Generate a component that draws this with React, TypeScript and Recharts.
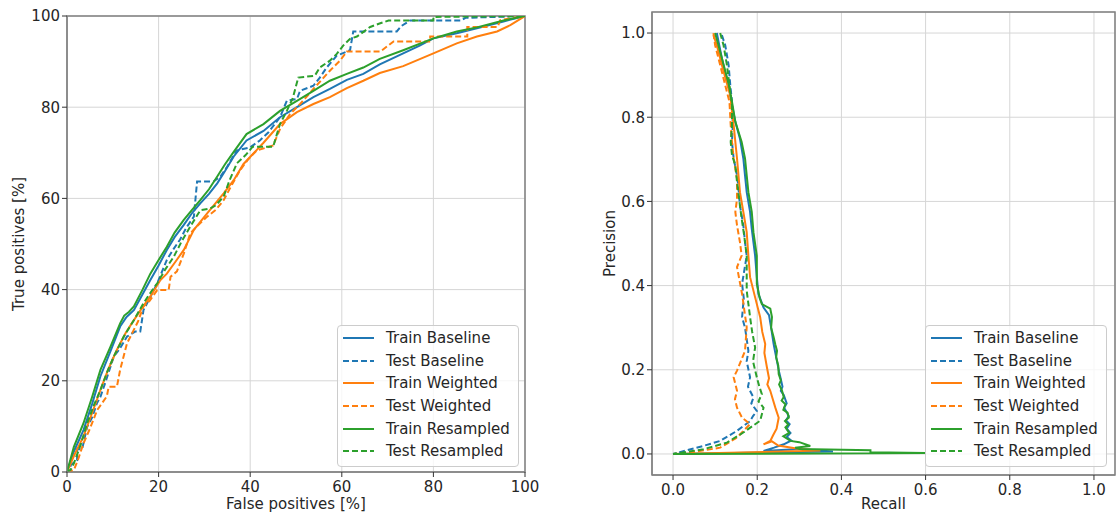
import React from 'react';
import { LineChart, Line, XAxis, YAxis, CartesianGrid, ReferenceArea } from 'recharts';

const seriesNames = ['Train Baseline', 'Test Baseline', 'Train Weighted', 'Test Weighted', 'Train Resampled', 'Test Resampled'];
const seriesColors = ['#1f77b4', '#1f77b4', '#ff7f0e', '#ff7f0e', '#2ca02c', '#2ca02c'];
const seriesDashed = [false, true, false, true, false, true];

const rocTicks = [0, 20, 40, 60, 80, 100];
const prTicks = [0, 0.2, 0.4, 0.6, 0.8, 1.0];

// ROC: [false positives %, true positives %]
const rocTrainBaseline = [
  [0, 0], [1.5, 4.5], [3.6, 9.2], [5.5, 15], [7.3, 21], [9.5, 26.5], [11.6, 31.9], [13, 34], [14.6, 35.5],
  [16.5, 39], [18.2, 42.1], [20, 45.3], [21.8, 48.7], [23.5, 51.5], [25.5, 54.2], [27.3, 56.8], [29.1, 58.9],
  [31, 61], [32.8, 63.3], [34.5, 66], [36.4, 69.2], [39.2, 72.7], [42.9, 74.8], [46.5, 77.8], [50.2, 80],
  [53.8, 82.2], [57.4, 84], [61.1, 86], [64.7, 87.3], [68.3, 89.4], [73.4, 91.8], [77, 93.5], [80, 95.1],
  [85.1, 96.2], [89.5, 97.3], [95.3, 98.8], [100, 100],
];
const rocTestBaseline = [
  [0, 0], [0.8, 0], [0.8, 1.5], [2.2, 2.6], [2.2, 5], [3.3, 5], [4.4, 9.9], [5.5, 12], [6.5, 15], [7.3, 16.5],
  [8.5, 20], [10.2, 25.3], [11.5, 27], [13.1, 29.7], [14.9, 30.8], [16, 30.8], [16.7, 35.5], [18, 38],
  [19.7, 41.4], [21.8, 46.5], [23, 48.5], [24.7, 51], [26, 53.5], [27.7, 56], [28.4, 63.7], [32, 63.7],
  [33.5, 64.8], [35, 67], [37, 70.5], [40, 71.2], [42.1, 72.7], [44, 74.5], [46.5, 77.8], [48, 81.4],
  [50.2, 81.8], [50.9, 83.6], [53.8, 84.7], [55.2, 86.5], [56.7, 88.7], [58.9, 91.3], [61.8, 92.5],
  [62.5, 96.6], [72, 96.6], [73, 97.8], [74.9, 99], [86, 99], [87, 99.6], [100, 100],
];
const rocTrainWeighted = [
  [0, 0], [1.5, 3.5], [3.6, 7.8], [5.5, 13], [7.3, 18], [9, 22.5], [10.9, 26.8], [12.8, 30.5], [14.6, 33.3],
  [16.4, 36], [18.2, 38.5], [20.4, 42.1], [21.8, 43.5], [23.6, 46], [25.5, 48.7], [27.7, 53.1], [30.6, 56.7],
  [34.2, 61.1], [36.4, 64], [38.5, 67.5], [42.9, 72.2], [46.5, 76.3], [50.2, 78.9], [53.8, 80.7],
  [57.4, 82.2], [61.1, 84.2], [64.7, 85.8], [68.3, 87.5], [73.4, 89], [80, 91.8], [85.1, 94], [89.5, 95.5],
  [93.9, 96.6], [96.8, 98], [100, 100],
];
const rocTestWeighted = [
  [0, 0], [1.5, 0.4], [2.5, 3], [3.6, 6.3], [5, 9.5], [6.6, 13.6], [8.7, 16.6], [9.1, 18.7], [10.9, 18.7],
  [11.6, 22.4], [13.1, 28.2], [14.5, 31], [15.5, 33], [16.7, 36.3], [18, 37.5], [19.7, 39.9], [22.2, 39.9],
  [22.6, 42.8], [24, 44], [25.5, 47.9], [26.9, 52.3], [28.5, 54], [30.6, 56], [32.5, 57.5], [34.2, 59.6],
  [36, 63], [37.8, 66.2], [39.5, 68.5], [41.4, 70.5], [45, 71.6], [46.5, 75.2], [48.7, 78.5], [50.9, 80.7],
  [53.8, 84], [57.4, 88], [59.6, 90.2], [61.1, 92.2], [68.4, 92.2], [71.3, 94.4], [79.3, 94.4], [79.3, 95.5],
  [87.4, 95.5], [87.4, 97.6], [94, 97.6], [94.6, 99.1], [100, 100],
];
const rocTrainResampled = [
  [0, 0], [1.5, 5.5], [3.6, 10.7], [5.5, 16.5], [7.3, 22.4], [9.5, 27.5], [11.6, 32.6], [12.5, 34.3],
  [13.5, 35.1], [14.6, 36.3], [16.5, 40], [18.2, 43.5], [20, 46.5], [21.8, 49.4], [23.5, 52.5], [25.5, 55.3],
  [27.3, 57.5], [29.1, 59.6], [31, 62], [32.8, 64.8], [34.5, 67.5], [36.4, 70.2], [39.2, 74.1], [42.9, 76.3],
  [46.5, 79.2], [50.2, 81.4], [53.8, 83.6], [57.4, 85.8], [61.1, 87.3], [64.7, 88.7], [68.3, 90.6],
  [73.4, 92.5], [80, 95.1], [85.1, 96.6], [89.5, 97.5], [95.3, 99], [100, 100],
];
const rocTestResampled = [
  [0, 0], [0.8, 0.5], [1.5, 1.9], [3, 6], [4.4, 10.7], [5.8, 14.5], [7.3, 18], [8.8, 22], [10.2, 25.3],
  [12.4, 29.7], [14.6, 33.3], [16.7, 37], [18, 39], [19.7, 41.4], [21.5, 44.5], [23.3, 47.2], [25, 50.5],
  [26.9, 53.8], [29.1, 57.4], [31.3, 57.8], [32.5, 58.5], [34.2, 60.4], [35.5, 64], [37.1, 67.7], [39, 69.5],
  [40.5, 71.3], [45, 71.3], [46.5, 76.3], [48, 79.2], [49.3, 82], [50.5, 86.5], [54.1, 86.9], [55.2, 88.7],
  [57.4, 90.2], [58.9, 91.7], [60.3, 93.5], [61.8, 95], [63.3, 95.5], [66.2, 97.6], [68.4, 98.4], [70.2, 99],
  [80, 99], [80, 99.8], [100, 100],
];

// PR: [recall, precision]
const prTrainBaseline = [
  [0.104, 1.0], [0.11, 0.97], [0.116, 0.94], [0.124, 0.905], [0.132, 0.876], [0.14, 0.829], [0.148, 0.789],
  [0.159, 0.749], [0.167, 0.702], [0.171, 0.662], [0.175, 0.622], [0.183, 0.575], [0.187, 0.535], [0.195, 0.471],
  [0.199, 0.42], [0.203, 0.38], [0.215, 0.348], [0.228, 0.33], [0.233, 0.3], [0.239, 0.261], [0.243, 0.24],
  [0.247, 0.22], [0.252, 0.195], [0.255, 0.182], [0.26, 0.16], [0.256, 0.15], [0.263, 0.14], [0.27, 0.12],
  [0.264, 0.11], [0.275, 0.09], [0.268, 0.08], [0.277, 0.071], [0.27, 0.06], [0.279, 0.05], [0.27, 0.04],
  [0.281, 0.032], [0.263, 0.023], [0.24, 0.015], [0.215, 0.007], [0.3, 0.012], [0.38, 0.006], [0, 0],
];
const prTestBaseline = [
  [0.116, 0.995], [0.124, 0.971], [0.132, 0.924], [0.136, 0.876], [0.14, 0.837], [0.142, 0.781], [0.14, 0.741],
  [0.144, 0.702], [0.152, 0.662], [0.155, 0.638], [0.159, 0.59], [0.167, 0.543], [0.171, 0.503], [0.175, 0.471],
  [0.164, 0.404], [0.168, 0.37], [0.164, 0.325], [0.171, 0.3], [0.179, 0.245], [0.175, 0.22], [0.183, 0.182],
  [0.178, 0.16], [0.191, 0.134], [0.186, 0.12], [0.199, 0.102], [0.19, 0.09], [0.183, 0.078], [0.152, 0.055],
  [0.112, 0.031], [0.072, 0.019], [0, 0],
];
const prTrainWeighted = [
  [0.096, 0.995], [0.104, 0.971], [0.116, 0.924], [0.128, 0.88], [0.136, 0.852], [0.14, 0.813], [0.144, 0.781],
  [0.152, 0.702], [0.159, 0.622], [0.167, 0.575], [0.175, 0.527], [0.179, 0.471], [0.183, 0.42], [0.195, 0.372],
  [0.207, 0.325], [0.212, 0.29], [0.219, 0.261], [0.217, 0.24], [0.223, 0.206], [0.228, 0.18], [0.224, 0.165],
  [0.231, 0.15], [0.237, 0.13], [0.243, 0.11], [0.251, 0.086], [0.246, 0.06], [0.238, 0.045], [0.231, 0.031],
  [0.215, 0.023], [0.235, 0.03], [0.25, 0.02], [0.3, 0.012], [0.35, 0.008], [0, 0],
];
const prTestWeighted = [
  [0.096, 1.0], [0.1, 0.971], [0.112, 0.924], [0.124, 0.876], [0.134, 0.837], [0.137, 0.781], [0.14, 0.741],
  [0.144, 0.702], [0.152, 0.654], [0.152, 0.606], [0.148, 0.575], [0.152, 0.543], [0.159, 0.503], [0.163, 0.471],
  [0.152, 0.444], [0.164, 0.38], [0.175, 0.301], [0.171, 0.245], [0.152, 0.198], [0.144, 0.182], [0.152, 0.15],
  [0.147, 0.13], [0.152, 0.11], [0.164, 0.086], [0.183, 0.071], [0.152, 0.039], [0.112, 0.015], [0.04, 0.003],
  [0, 0],
];
const prTrainResampled = [
  [0.1, 1.0], [0.116, 0.94], [0.132, 0.88], [0.14, 0.837], [0.148, 0.789], [0.163, 0.741], [0.171, 0.702],
  [0.175, 0.662], [0.179, 0.622], [0.187, 0.575], [0.191, 0.527], [0.199, 0.471], [0.199, 0.404], [0.206, 0.37],
  [0.211, 0.356], [0.222, 0.35], [0.231, 0.345], [0.235, 0.325], [0.233, 0.3], [0.239, 0.277], [0.243, 0.26],
  [0.247, 0.245], [0.245, 0.23], [0.25, 0.21], [0.251, 0.19], [0.256, 0.175], [0.252, 0.165], [0.259, 0.15],
  [0.263, 0.135], [0.258, 0.127], [0.267, 0.118], [0.262, 0.105], [0.272, 0.098], [0.275, 0.086], [0.266, 0.078],
  [0.274, 0.07], [0.267, 0.063], [0.276, 0.05], [0.262, 0.042], [0.279, 0.031], [0.3, 0.028], [0.326, 0.019],
  [0.29, 0.015], [0.3, 0.012], [0.469, 0.009], [0.469, 0.004], [0.6, 0.002], [0, 0],
];
const prTestResampled = [
  [0.112, 1.0], [0.12, 0.971], [0.128, 0.924], [0.134, 0.876], [0.14, 0.829], [0.14, 0.781], [0.137, 0.741],
  [0.14, 0.71], [0.148, 0.686], [0.152, 0.646], [0.158, 0.598], [0.163, 0.559], [0.169, 0.519], [0.175, 0.471],
  [0.175, 0.388], [0.183, 0.325], [0.188, 0.29], [0.195, 0.253], [0.19, 0.22], [0.199, 0.182], [0.205, 0.16],
  [0.211, 0.142], [0.203, 0.125], [0.215, 0.11], [0.207, 0.079], [0.167, 0.051], [0.128, 0.027], [0.072, 0.011],
  [0, 0],
];

const rocSeries = [rocTrainBaseline, rocTestBaseline, rocTrainWeighted, rocTestWeighted, rocTrainResampled, rocTestResampled];
const prSeries = [prTrainBaseline, prTestBaseline, prTrainWeighted, prTestWeighted, prTrainResampled, prTestResampled];

const FONT = '"DejaVu Sans", sans-serif';
const tickStyle = { fontSize: 15, fill: '#262626', fontFamily: FONT };
const labelStyle = { fontSize: 15, fill: '#262626', fontFamily: FONT, textAnchor: 'middle' as const };
const SPINE = '#808080';

const toPoints = (pairs: number[][]) => pairs.map(([x, y]) => ({ x, y }));

const renderLines = (series: number[][][]) =>
  series.map((s, i) => (
    <Line
      key={seriesNames[i]}
      data={toPoints(s)}
      dataKey="y"
      type="linear"
      stroke={seriesColors[i]}
      strokeWidth={2}
      strokeDasharray={seriesDashed[i] ? '6 3' : undefined}
      dot={false}
      activeDot={false}
      isAnimationActive={false}
    />
  ));

const LegendBox: React.FC<{ left: number; top: number }> = ({ left, top }) => (
  <div
    style={{
      position: 'absolute', left, top, width: 182, height: 142, boxSizing: 'border-box',
      border: '1px solid #cccccc', borderRadius: 4, background: 'rgba(255,255,255,0.8)',
      paddingTop: 1, fontFamily: FONT, fontSize: 15, color: '#262626',
    }}
  >
    {seriesNames.map((name, i) => (
      <div key={name} style={{ display: 'flex', alignItems: 'center', height: 22.6 }}>
        <svg width={31} height={6} style={{ marginLeft: 5, marginRight: 12 }}>
          <line x1={0} y1={3} x2={31} y2={3} stroke={seriesColors[i]} strokeWidth={2}
            strokeDasharray={seriesDashed[i] ? '6 3' : undefined} />
        </svg>
        <span style={{ whiteSpace: 'nowrap' }}>{name}</span>
      </div>
    ))}
  </div>
);

export default function App() {
  return (
    <div style={{ position: 'absolute', left: 0, top: 0, width: 1120, height: 512, background: '#fff', overflow: 'hidden' }}>
      <div style={{ position: 'absolute', left: 0, top: 0 }}>
        <LineChart width={540} height={512} margin={{ top: 16, right: 15, bottom: 0, left: 0 }}>
          <CartesianGrid stroke="#d6d6d6" />
          <XAxis
            type="number" dataKey="x" domain={[0, 100]} ticks={rocTicks} interval={0} allowDataOverflow
            height={40} tick={tickStyle} tickSize={5} tickMargin={4} stroke={SPINE} tickLine={{ stroke: '#333' }}
            label={{ value: 'False positives [%]', position: 'insideBottom', offset: 3, style: labelStyle }}
          />
          <YAxis
            type="number" dataKey="y" domain={[0, 100]} ticks={rocTicks} interval={0} allowDataOverflow
            width={67} tick={tickStyle} tickSize={5} tickMargin={2} stroke={SPINE} tickLine={{ stroke: '#333' }}
            label={{ value: 'True positives [%]', angle: -90, position: 'insideLeft', offset: 19, style: labelStyle }}
          />
          <ReferenceArea x1={0} x2={100} y1={0} y2={100} fill="none" stroke={SPINE} strokeWidth={1.5} />
          {renderLines(rocSeries)}
        </LineChart>
        <LegendBox left={337} top={325} />
      </div>
      <div style={{ position: 'absolute', left: 560, top: 0 }}>
        <LineChart width={560} height={512} margin={{ top: 12, right: 5, bottom: 0, left: 0 }}>
          <CartesianGrid stroke="#d6d6d6" />
          <XAxis
            type="number" dataKey="x" domain={[-0.05, 1.05]} ticks={prTicks} interval={0} allowDataOverflow
            height={37} tick={tickStyle} tickSize={5} tickMargin={4} stroke={SPINE} tickLine={{ stroke: '#333' }}
            tickFormatter={(v: number) => v.toFixed(1)}
            label={{ value: 'Recall', position: 'insideBottom', offset: 3, style: labelStyle }}
          />
          <YAxis
            type="number" dataKey="y" domain={[-0.05, 1.05]} ticks={prTicks} interval={0} allowDataOverflow
            width={92} tick={tickStyle} tickSize={5} tickMargin={2} stroke={SPINE} tickLine={{ stroke: '#333' }}
            tickFormatter={(v: number) => v.toFixed(1)}
            label={{ value: 'Precision', angle: -90, position: 'insideLeft', offset: 50, style: labelStyle }}
          />
          <ReferenceArea x1={-0.05} x2={1.05} y1={-0.05} y2={1.05} fill="none" stroke={SPINE} strokeWidth={1.5} />
          {renderLines(prSeries)}
        </LineChart>
        <LegendBox left={365} top={325} />
      </div>
    </div>
  );
}
